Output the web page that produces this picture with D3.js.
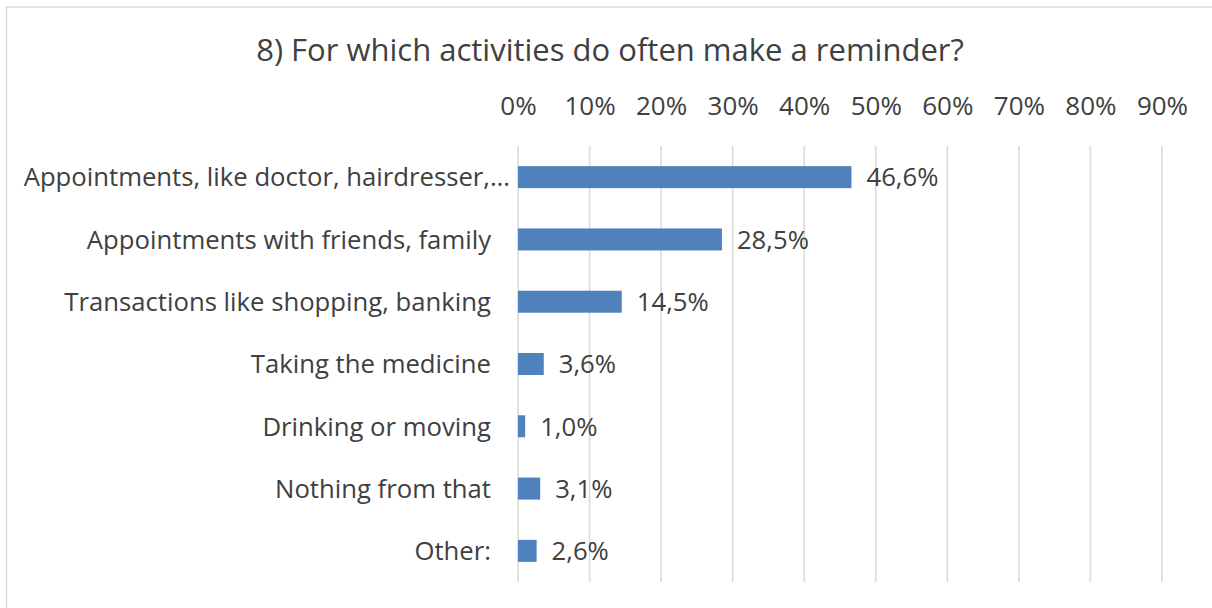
<!DOCTYPE html>
<html>
<head>
<meta charset="utf-8">
<script src="https://cdn.jsdelivr.net/npm/d3@7"></script>
<style>
  html, body { margin: 0; padding: 0; background: #fff; }
  svg { display: block; }
  text { font-family: "Open Sans", "Noto Sans", sans-serif; fill: #404040; }
</style>
</head>
<body>
<svg id="chart" width="1212" height="608"></svg>
<script>
// Survey answers: share of respondents per activity
const title = "8) For which activities do often make a reminder?";
const categories = [
  "Appointments, like doctor, hairdresser,…",
  "Appointments with friends, family",
  "Transactions like shopping, banking",
  "Taking the medicine",
  "Drinking or moving",
  "Nothing from that",
  "Other:"
];
const values = [0.466, 0.285, 0.145, 0.036, 0.010, 0.031, 0.026];
const tickValues = [0, 0.1, 0.2, 0.3, 0.4, 0.5, 0.6, 0.7, 0.8, 0.9];

const svg = d3.select("#chart");
const W = 1212, H = 608;
const plot = { left: 518, right: 1162, top: 146, bottom: 582 };
const labelSize = "25.7px";

// chart frame (runs off the right and bottom edges)
svg.append("rect")
  .attr("x", 6.5).attr("y", 7)
  .attr("width", W + 20).attr("height", H + 20)
  .attr("fill", "#fff").attr("stroke", "#d9d9d9").attr("stroke-width", 1.5);

const x = d3.scaleLinear().domain([0, 0.9]).range([plot.left, plot.right]);
const y = d3.scaleBand().domain(categories)
  .range([plot.top, plot.bottom])
  .paddingInner(0.647).paddingOuter(0.3235);

// vertical gridlines
svg.append("g").selectAll("line").data(tickValues).join("line")
  .attr("x1", d => x(d)).attr("x2", d => x(d))
  .attr("y1", plot.top).attr("y2", plot.bottom)
  .attr("stroke", "#d9d9d9").attr("stroke-width", 1.5);

// title
svg.append("text")
  .attr("x", 610).attr("y", 61)
  .attr("text-anchor", "middle")
  .style("font-size", "31px")
  .text(title);

// top percentage axis
const axisTop = d3.axisTop(x).tickValues(tickValues)
  .tickFormat(d3.format(".0%")).tickSize(0).tickPadding(0);
const gAxis = svg.append("g").attr("transform", `translate(0,115)`).call(axisTop);
gAxis.select(".domain").remove();
gAxis.selectAll("text")
  .attr("y", 0).attr("dy", 0)
  .style("font-size", "26px").attr("fill", "#404040");

// bars
svg.append("g").selectAll("rect").data(categories).join("rect")
  .attr("x", x(0))
  .attr("y", d => y(d))
  .attr("width", (d, i) => x(values[i]) - x(0))
  .attr("height", y.bandwidth())
  .attr("fill", "#4f81bd");

// category labels
svg.append("g").selectAll("text").data(categories).join("text")
  .attr("x", d => d.endsWith("…") ? 510 : 491)
  .attr("y", d => y(d) + y.bandwidth() / 2)
  .attr("dy", "0.36em")
  .attr("text-anchor", "end")
  .style("font-size", labelSize)
  .text(d => d);

// value labels
const fmt = v => d3.format(".1%")(v).replace(".", ",");
svg.append("g").selectAll("text").data(categories).join("text")
  .attr("x", (d, i) => x(values[i]) + 15)
  .attr("y", d => y(d) + y.bandwidth() / 2)
  .attr("dy", "0.36em")
  .style("font-size", labelSize)
  .text((d, i) => fmt(values[i]));
</script>
</body>
</html>
